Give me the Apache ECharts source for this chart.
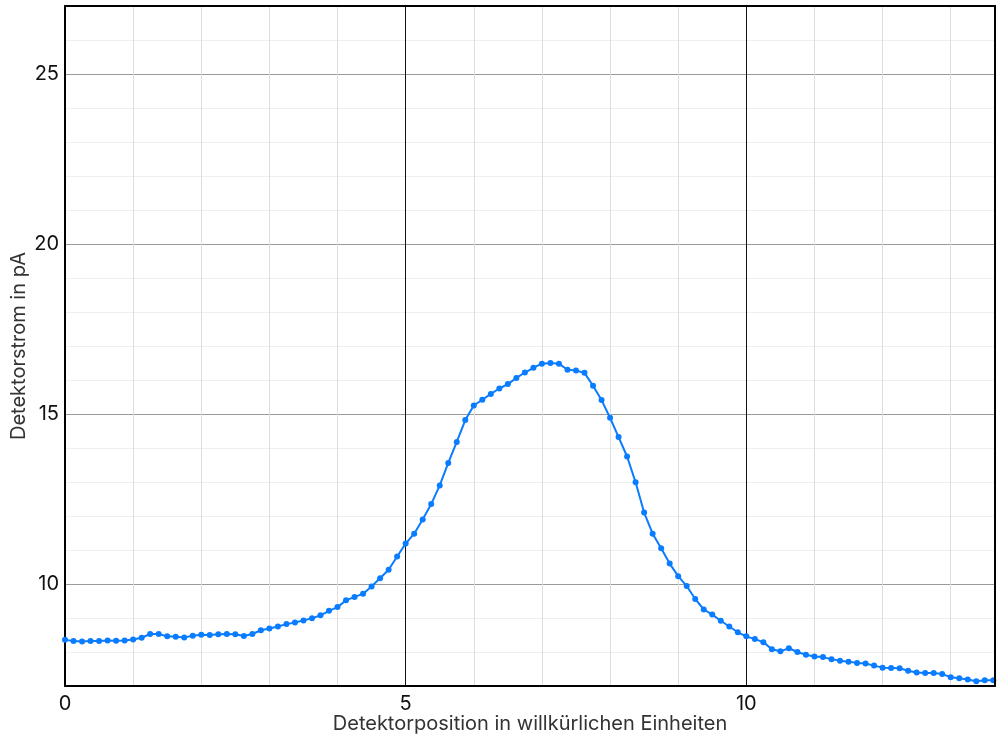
<!DOCTYPE html>
<html>
<head>
<meta charset="utf-8">
<script src="https://cdn.jsdelivr.net/npm/echarts@6/dist/echarts.min.js"></script>
<style>html,body{margin:0;padding:0;background:#fff}#c{width:999px;height:741px}</style>
</head>
<body>
<div id="c"></div>
<script>
// Detector positions (arbitrary units), step 0.125
const xStep = 0.125;
const xStart = 0;
// Detector current in pA
const current = [
  8.36, 8.32, 8.31, 8.32, 8.32, 8.34, 8.33, 8.34, 8.37, 8.42,
  8.53, 8.53, 8.46, 8.45, 8.43, 8.48, 8.51, 8.50, 8.52, 8.53,
  8.52, 8.47, 8.53, 8.64, 8.69, 8.75, 8.82, 8.87, 8.93, 8.99,
  9.08, 9.21, 9.32, 9.52, 9.62, 9.71, 9.93, 10.17, 10.42, 10.81,
  11.19, 11.48, 11.90, 12.35, 12.90, 13.56, 14.18, 14.82, 15.25, 15.42,
  15.59, 15.75, 15.88, 16.06, 16.22, 16.36, 16.48, 16.50, 16.48, 16.30,
  16.28, 16.21, 15.83, 15.41, 14.89, 14.32, 13.75, 12.99, 12.10, 11.48,
  11.05, 10.60, 10.23, 9.94, 9.56, 9.25, 9.10, 8.92, 8.75, 8.58,
  8.46, 8.38, 8.29, 8.08, 8.02, 8.11, 8.00, 7.92, 7.87, 7.85,
  7.79, 7.74, 7.71, 7.68, 7.66, 7.60, 7.54, 7.53, 7.52, 7.45,
  7.40, 7.38, 7.38, 7.35, 7.26, 7.23, 7.19, 7.14, 7.17, 7.17
];
const positions = current.map((_, i) => xStart + i * xStep);
const xMax = 13.65;
const xTickLabels = [0, 5, 10];
const yTickLabels = [10, 15, 20, 25];
const xTitle = 'Detektorposition in willkürlichen Einheiten';
const yTitle = 'Detektorstrom in pA';

const FONT = 'Inter, "Noto Sans", sans-serif';
const chart = echarts.init(document.getElementById('c'), null, {renderer: 'canvas'});

chart.setOption({
  animation: false,
  backgroundColor: '#fff',
  grid: {left: 65, right: 4, top: 6, bottom: 55, containLabel: false, outerBoundsMode: 'none'},
  xAxis: [
    {
      type: 'value', min: 0, max: xMax, interval: 1, position: 'bottom',
      axisLine: {show: true, onZero: false, lineStyle: {color: '#000', width: 2}},
      axisTick: {show: false},
      axisLabel: {
        show: true, margin: 8, fontSize: 20, color: '#111', fontFamily: FONT,
        showMaxLabel: false,
        formatter: v => (xTickLabels.indexOf(Math.round(v * 1000) / 1000) >= 0 ? String(v) : '')
      },
      splitLine: {show: true, lineStyle: {color: ['#111', '#dedede', '#dedede', '#dedede', '#dedede'], width: 1}},
      name: xTitle, nameLocation: 'middle', nameGap: 28, nameMoveOverlap: false,
      nameTextStyle: {fontSize: 20, color: '#333', fontFamily: FONT}
    },
    {
      type: 'value', min: 0, max: xMax, position: 'top', z: 5,
      axisLine: {show: true, onZero: false, lineStyle: {color: '#000', width: 2}},
      axisTick: {show: false}, axisLabel: {show: false}, splitLine: {show: false}
    }
  ],
  yAxis: [
    {
      type: 'value', min: 7, max: 27, interval: 1, position: 'left',
      axisLine: {show: true, onZero: false, lineStyle: {color: '#000', width: 2}},
      axisTick: {show: false},
      axisLabel: {
        show: true, margin: 6, fontSize: 20, color: '#111', fontFamily: FONT,
        formatter: v => (yTickLabels.indexOf(Math.round(v)) >= 0 && Math.abs(v - Math.round(v)) < 1e-6 ? String(v) : '')
      },
      splitLine: {show: true, lineStyle: {color: ['#efefef', '#efefef', '#efefef', '#9a9a9a', '#efefef'], width: 1}},
      name: yTitle, nameLocation: 'middle', nameGap: 36, nameMoveOverlap: false,
      nameTextStyle: {fontSize: 20, color: '#333', fontFamily: FONT}
    },
    {
      type: 'value', min: 7, max: 27, position: 'right', z: 5,
      axisLine: {show: true, onZero: false, lineStyle: {color: '#000', width: 2}},
      axisTick: {show: false}, axisLabel: {show: false}, splitLine: {show: false}
    }
  ],
  series: [{
    type: 'line',
    xAxisIndex: 0, yAxisIndex: 0,
    data: positions.map((x, i) => [x, current[i]]),
    symbol: 'circle', symbolSize: 6, showSymbol: true,
    lineStyle: {color: '#0a7cff', width: 2},
    itemStyle: {color: '#0a7cff'},
    z: 3
  }]
});
</script>
</body>
</html>
